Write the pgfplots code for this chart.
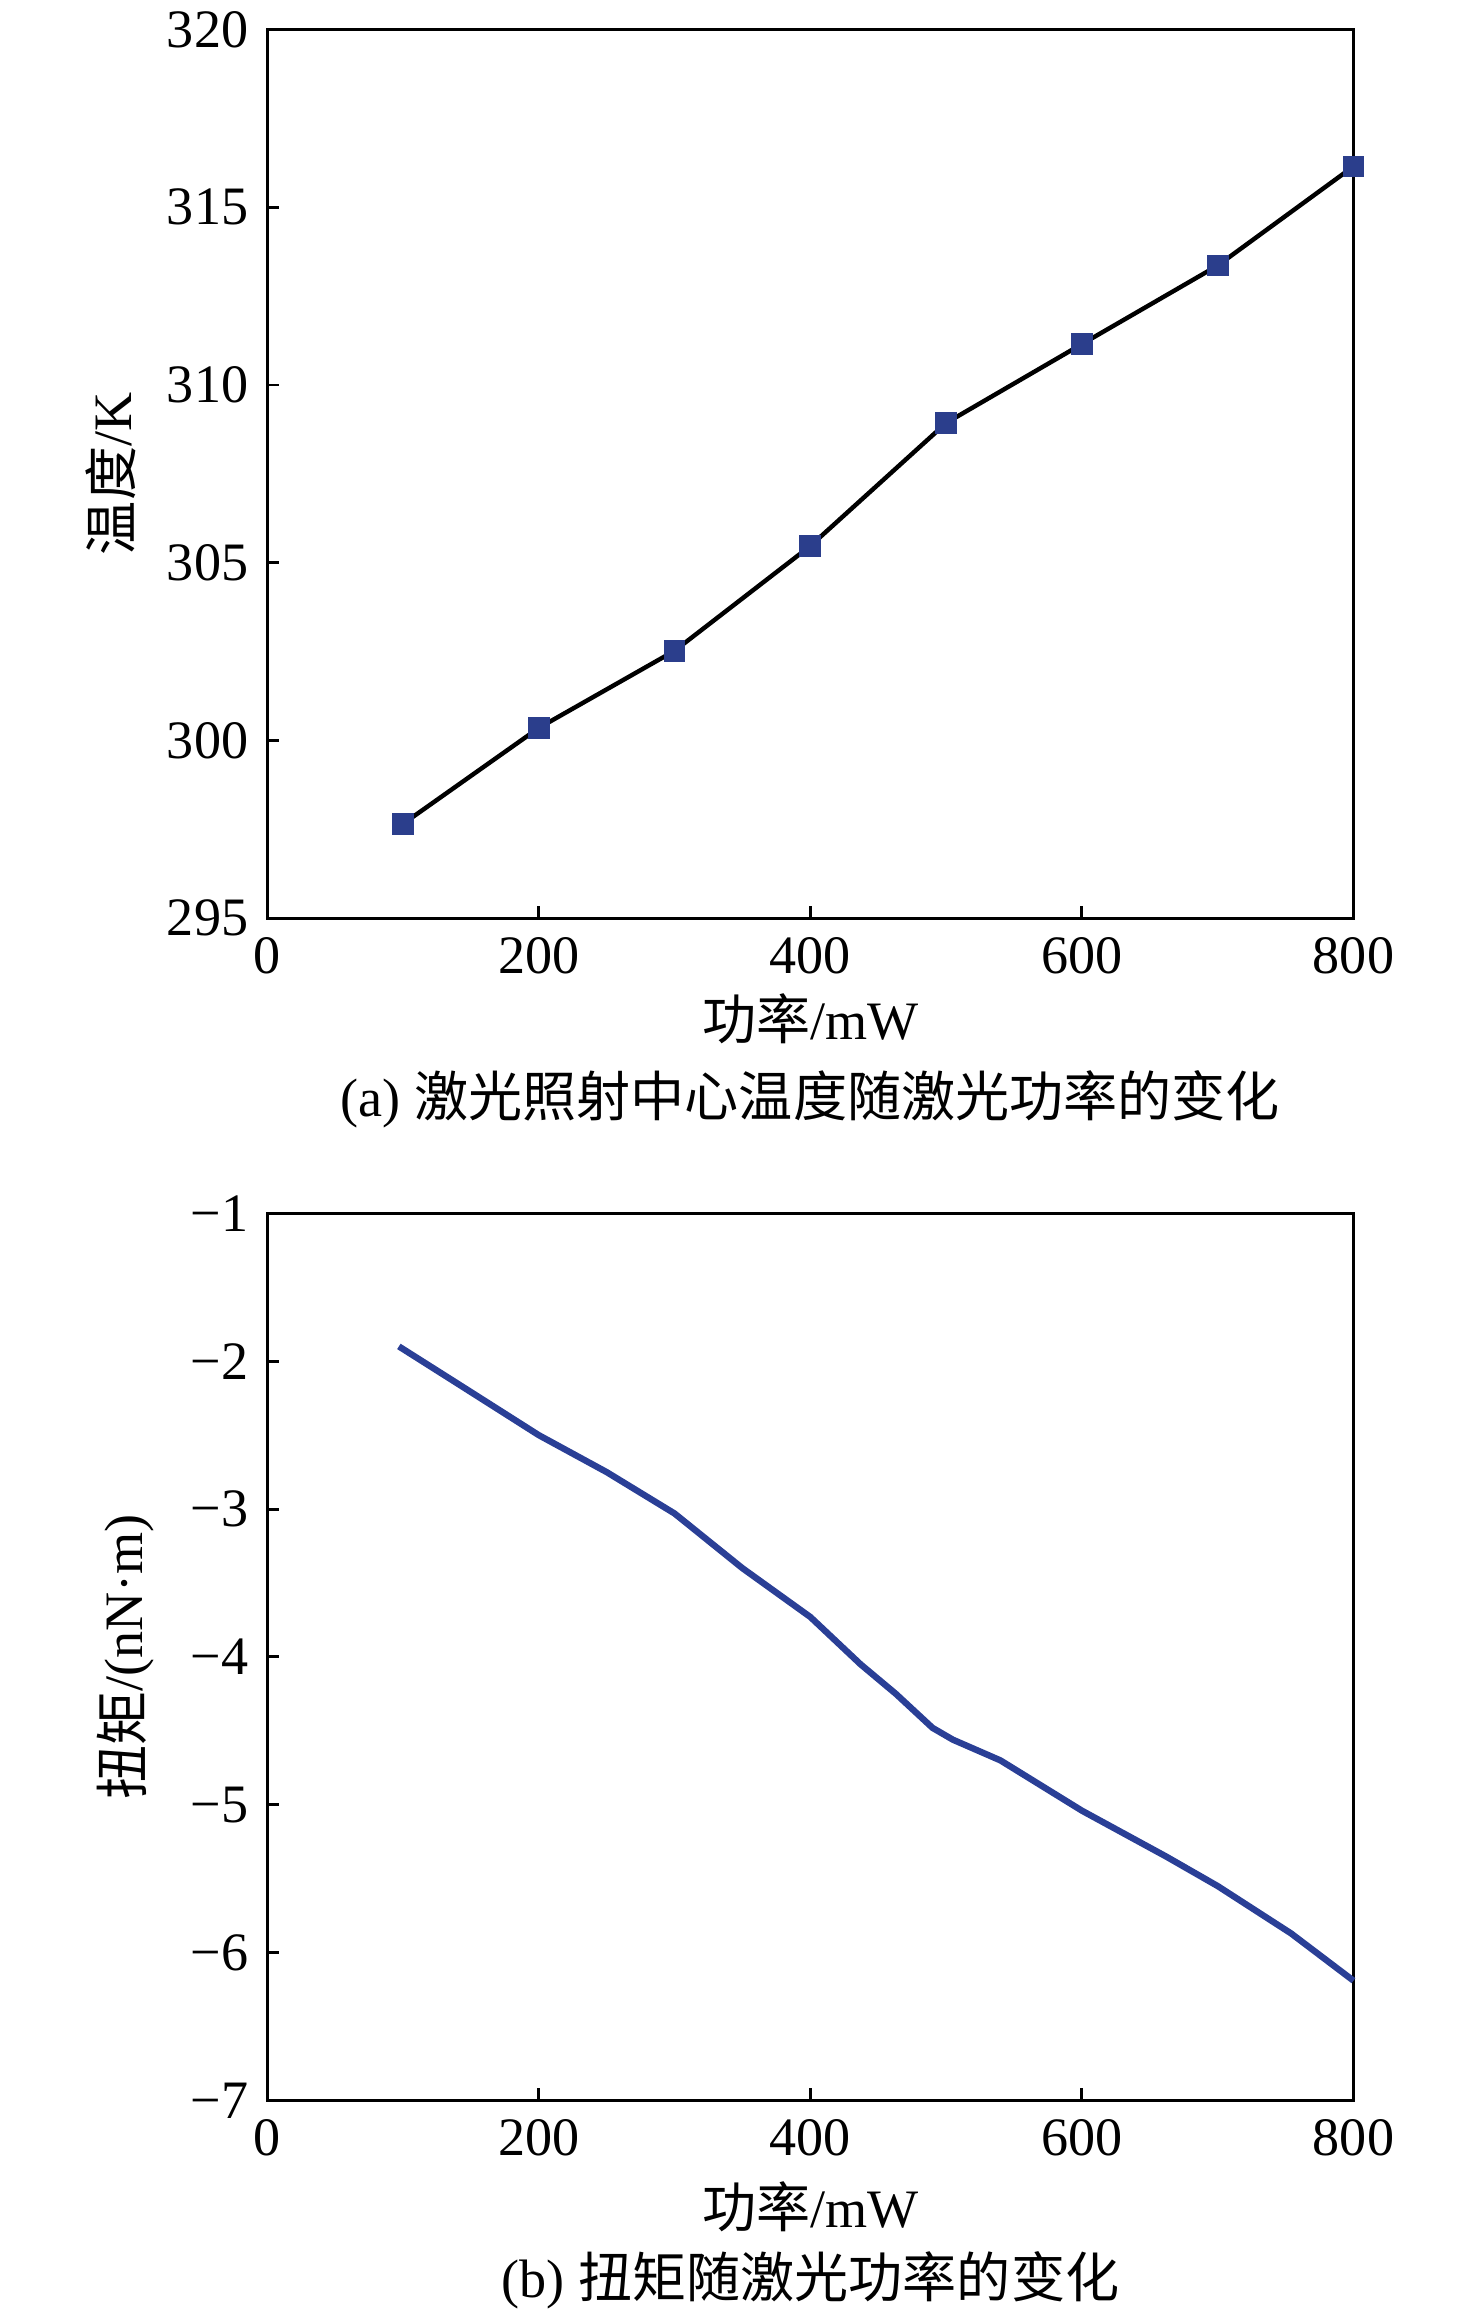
\documentclass[border=0pt]{standalone}
\usepackage{fontspec}
\setmainfont{Liberation Serif}
\newfontfamily\cjk{Noto Sans CJK SC}
\usepackage{pgfplots}
\pgfplotsset{compat=1.18}
\definecolor{mblue}{RGB}{43,62,140}
\definecolor{lblue}{RGB}{42,63,150}
\pgfplotsset{
  panel/.style={
    scale only axis, width=220.8pt, clip=false,
    xmin=0, xmax=800, xtick={0,200,...,800},
    tick align=inside, tick pos=left, major tick length=2.5pt,
    axis line style={line width=0.6pt},
    every tick/.style={black, line width=0.6pt},
    /pgf/number format/assume math mode=true,
    /pgf/number format/1000 sep={},
    xlabel style={anchor=center},
    ylabel style={anchor=center},
  }
}
\begin{document}
\fontsize{11}{13.2}\selectfont
\begin{tikzpicture}
\path[use as bounding box] (0,0) rectangle (300pt,-469.5pt);
\begin{axis}[panel, name=pa,
  at={(54.3pt,-186.6pt)}, anchor=south west, height=180.6pt,
  ymin=295, ymax=320, ytick={295,300,...,320},
  xlabel={{\cjk 功率}/mW}, ylabel={{\cjk 温度}/K},
  xlabel style={at={(axis description cs:0.5,-0.113)}},
  ylabel style={at={(axis description cs:-0.144,0.5)}},
]
\addplot[black, line width=0.9pt, mark=none] coordinates {
(100,297.65) (200,300.35) (300,302.52) (400,305.47) (500,308.93) (600,311.15) (700,313.36) (800,316.15)};
\addplot[only marks, mark=square*, mark size=2pt, mark options={fill=mblue, draw=mblue}] coordinates {
(100,297.65) (200,300.35) (300,302.52) (400,305.47) (500,308.93) (600,311.15) (700,313.36) (800,316.15)};
\end{axis}
\begin{axis}[panel, name=pb,
  at={(54.3pt,-426.9pt)}, anchor=south west, height=180.3pt,
  ymin=-7, ymax=-1, ytick={-7,-6,...,-1},
  yticklabels={−7,−6,−5,−4,−3,−2,−1},
  xlabel={{\cjk 功率}/mW}, ylabel={{\cjk 扭矩}/(nN·m)},
  xlabel style={at={(axis description cs:0.5,-0.120)}},
  ylabel style={at={(axis description cs:-0.130,0.5)}},
]
\addplot[lblue, line width=1.3pt, mark=none] coordinates {
(97,-1.90) (140,-2.15) (200,-2.50) (250,-2.75) (300,-3.03) (350,-3.40) (400,-3.73) (437,-4.05) (463,-4.25) (490,-4.48) (505,-4.56) (540,-4.70) (600,-5.04) (662,-5.35) (700,-5.55) (754,-5.87) (800,-6.19)};
\end{axis}
\node[anchor=center] at (164.7pt,-223.5pt) {(a) {\cjk 激光照射中心温度随激光功率的变化}};
\node[anchor=center] at (164.7pt,-463.5pt) {(b) {\cjk 扭矩随激光功率的变化}};
\end{tikzpicture}
\end{document}
